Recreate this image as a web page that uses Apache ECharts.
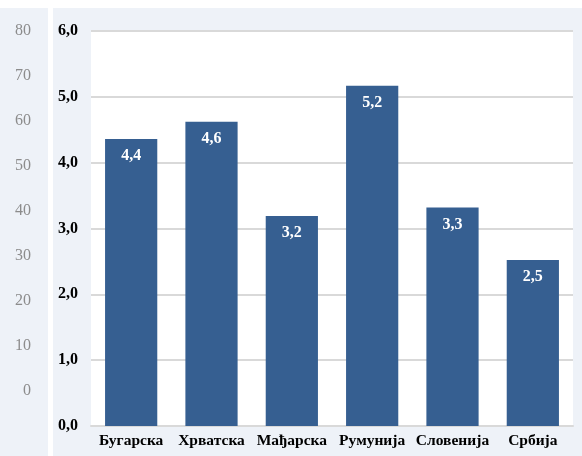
<!DOCTYPE html>
<html>
<head>
<meta charset="utf-8">
<script src="https://cdn.jsdelivr.net/npm/echarts@6/dist/echarts.min.js"></script>
<style>
  html, body { margin: 0; padding: 0; background: #fff; }
  #main { width: 582px; height: 456px; }
</style>
</head>
<body>
<div id="main"></div>
<script>
// data
const countries = ['Бугарска', 'Хрватска', 'Мађарска', 'Румунија', 'Словенија', 'Србија']
const values = [4.36, 4.62, 3.19, 5.17, 3.32, 2.52]
const leftTicks = [0, 80, 10] // min, max, step of the cut-off chart on the left

const serif = '"Liberation Serif", "DejaVu Serif", serif'
const fmt = v => v.toFixed(1).replace('.', ',')

let myChart = echarts.init(document.getElementById('main'))

myChart.setOption({
  animation: false,
  backgroundColor: '#fff',
  graphic: [
    { type: 'rect', z: -10, shape: { x: 0, y: 8, width: 48, height: 448 }, style: { fill: '#eef2f8' } },
    { type: 'rect', z: -10, shape: { x: 53, y: 8, width: 529, height: 448 }, style: { fill: '#eef2f8' } }
  ],
  grid: [
    { left: 91, right: 9, top: 31, bottom: 30, show: true, backgroundColor: '#fff', borderWidth: 0 },
    { left: 31, width: 10, top: 31, bottom: 65 }
  ],
  xAxis: [
    {
      type: 'category',
      gridIndex: 0,
      data: countries,
      axisTick: { show: false },
      axisLine: { lineStyle: { color: '#d9d9d9', width: 2 } },
      axisLabel: {
        interval: 0, hideOverlap: false,
        color: '#000', fontFamily: serif, fontWeight: 'bold', fontSize: 15.5, margin: 7
      }
    },
    { type: 'category', gridIndex: 1, show: false, data: [''] }
  ],
  yAxis: [
    {
      type: 'value',
      gridIndex: 0,
      min: 0,
      max: 6,
      interval: 1,
      axisLine: { show: false },
      axisTick: { show: false },
      splitLine: { lineStyle: { color: '#d9d9d9', width: 2 } },
      axisLabel: {
        color: '#000', fontFamily: serif, fontWeight: 'bold', fontSize: 16, margin: 13,
        formatter: v => fmt(v)
      }
    },
    {
      type: 'value',
      gridIndex: 1,
      min: leftTicks[0],
      max: leftTicks[1],
      interval: leftTicks[2],
      axisLine: { show: false },
      axisTick: { show: false },
      splitLine: { show: false },
      axisLabel: { color: '#8c8c8c', fontFamily: serif, fontSize: 16, margin: 0 }
    }
  ],
  series: [
    {
      type: 'bar',
      xAxisIndex: 0,
      yAxisIndex: 0,
      data: values,
      barWidth: '65%',
      itemStyle: { color: '#365f91' },
      label: {
        show: true,
        position: 'insideTop',
        distance: 9,
        color: '#fff',
        fontFamily: serif,
        fontWeight: 'bold',
        fontSize: 16,
        formatter: p => fmt(p.value)
      }
    }
  ]
})
</script>
</body>
</html>
